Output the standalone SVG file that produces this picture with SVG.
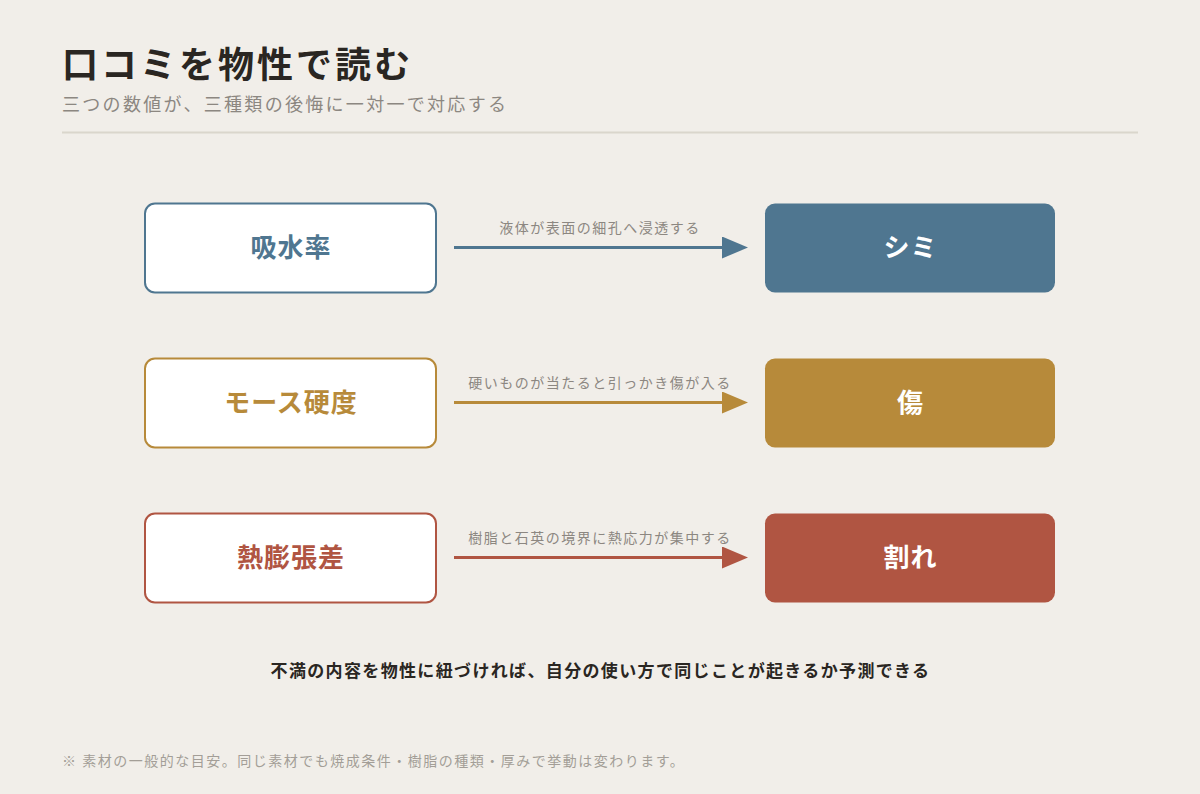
<svg xmlns="http://www.w3.org/2000/svg" width="1200" height="794" viewBox="0 0 1200 794">
<style>
.jp{font-family:"Noto Sans CJK JP","Noto Sans",sans-serif}
.title{font-size:36px;font-weight:700;fill:#2a2622;letter-spacing:3px}
.sub{font-size:18px;fill:#8c8781;letter-spacing:2.3px}
.lbox{fill:#ffffff;stroke-width:2}
.node{font-size:26px;font-weight:700;text-anchor:middle;letter-spacing:1px}
.lab{font-size:14px;fill:#8c8781;text-anchor:middle;letter-spacing:1.5px}
.conc{font-size:17px;font-weight:700;fill:#2a2622;text-anchor:middle;letter-spacing:1.35px}
.note{font-size:14px;fill:#a39e97;letter-spacing:1.5px}
</style>
<defs>
<marker id="mb" markerWidth="26" markerHeight="22" refX="0" refY="11" markerUnits="userSpaceOnUse" orient="auto"><path d="M0,0 L26,11 L0,22 Z" fill="#4f7690"/></marker>
<marker id="mg" markerWidth="26" markerHeight="22" refX="0" refY="11" markerUnits="userSpaceOnUse" orient="auto"><path d="M0,0 L26,11 L0,22 Z" fill="#b78a3a"/></marker>
<marker id="mr" markerWidth="26" markerHeight="22" refX="0" refY="11" markerUnits="userSpaceOnUse" orient="auto"><path d="M0,0 L26,11 L0,22 Z" fill="#b05542"/></marker>
</defs>
<rect width="1200" height="794" fill="#f1eee9"/>
<text class="jp title" x="62" y="78">口コミを物性で読む</text>
<text class="jp sub" x="62" y="111">三つの数値が、三種類の後悔に一対一で対応する</text>
<line x1="62" y1="132.5" x2="1138" y2="132.5" stroke="#dad6cc" stroke-width="2"/>

<g id="connectors">
<line x1="454" y1="247.5" x2="722" y2="247.5" stroke="#4f7690" stroke-width="3" marker-end="url(#mb)"/>
<text class="jp lab" x="600" y="233">液体が表面の細孔へ浸透する</text>
<line x1="454" y1="402.5" x2="722" y2="402.5" stroke="#b78a3a" stroke-width="3" marker-end="url(#mg)"/>
<text class="jp lab" x="600" y="388">硬いものが当たると引っかき傷が入る</text>
<line x1="454" y1="557.5" x2="722" y2="557.5" stroke="#b05542" stroke-width="3" marker-end="url(#mr)"/>
<text class="jp lab" x="600" y="543">樹脂と石英の境界に熱応力が集中する</text>
</g>

<g id="n-absorb">
<rect class="lbox" x="145" y="203.5" width="291" height="89" rx="10" stroke="#4f7690"/>
<text class="jp node" x="291" y="257" fill="#4f7690">吸水率</text>
</g>
<g id="n-stain">
<rect x="765" y="203.5" width="290" height="89" rx="10" fill="#4f7690"/>
<text class="jp node" x="910.5" y="257" fill="#ffffff">シミ</text>
</g>
<g id="n-mohs">
<rect class="lbox" x="145" y="358.5" width="291" height="89" rx="10" stroke="#b78a3a"/>
<text class="jp node" x="291" y="412" fill="#b78a3a">モース硬度</text>
</g>
<g id="n-scratch">
<rect x="765" y="358.5" width="290" height="89" rx="10" fill="#b78a3a"/>
<text class="jp node" x="910.5" y="412" fill="#ffffff">傷</text>
</g>
<g id="n-thermal">
<rect class="lbox" x="145" y="513.5" width="291" height="89" rx="10" stroke="#b05542"/>
<text class="jp node" x="291" y="567" fill="#b05542">熱膨張差</text>
</g>
<g id="n-crack">
<rect x="765" y="513.5" width="290" height="89" rx="10" fill="#b05542"/>
<text class="jp node" x="910.5" y="567" fill="#ffffff">割れ</text>
</g>

<text class="jp conc" x="600.5" y="677">不満の内容を物性に紐づければ、自分の使い方で同じことが起きるか予測できる</text>
<text class="jp note" x="62" y="766">※ 素材の一般的な目安。同じ素材でも焼成条件・樹脂の種類・厚みで挙動は変わります。</text>
</svg>
